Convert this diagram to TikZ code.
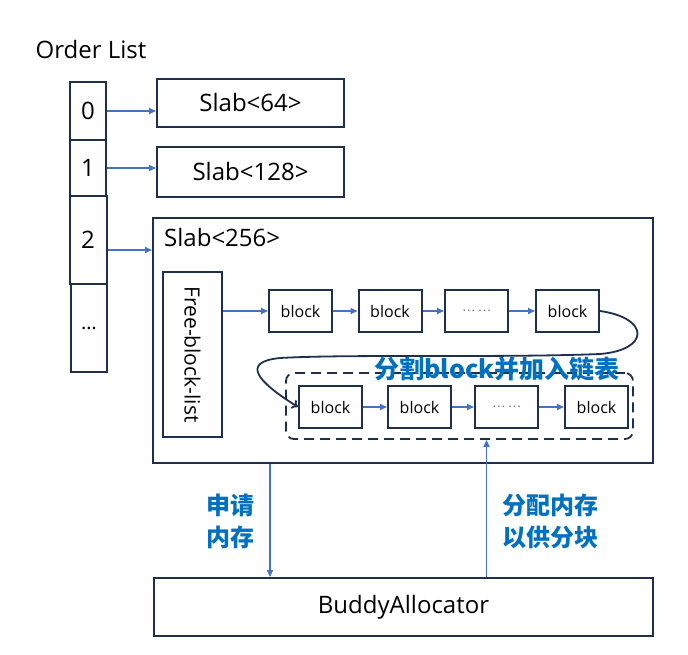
\documentclass[tikz,border=0pt]{standalone}
\usepackage{fontspec}
\setmainfont{Open Sans}
\newfontfamily\cjk{Noto Sans CJK SC}
\usetikzlibrary{arrows.meta,positioning}

\definecolor{navy}{RGB}{31,48,78}
\definecolor{lineblue}{RGB}{68,114,196}
\definecolor{textblue}{RGB}{0,112,192}
\newcommand{\gapdots}{{\cjk\fontsize{12}{12}\selectfont\color{gray!80!navy}…\hspace{3pt}…}}

\tikzset{
	cell/.style={draw=navy, line width=2pt, minimum width=36pt, font=\fontsize{24}{24}\selectfont},
	slabbox/.style={draw=navy, line width=2pt, font=\fontsize{24}{24}\selectfont},
	blockbox/.style={draw=navy, line width=2pt, minimum width=63pt, minimum height=42pt, font=\fontsize{16}{16}\selectfont},
	arr/.style={draw=lineblue, line width=1.6pt, -{Triangle[length=7pt,width=6pt]}},
	note/.style={text=textblue, font=\cjk\fontsize{24}{32}\selectfont\bfseries, align=left},
}

\begin{document}
\begin{tikzpicture}[x=1pt,y=-1pt]
			\useasboundingbox (0,0) rectangle (688,655);
			\node[font=\fontsize{24}{24}\selectfont] (title) at (91,50) {Order List};
			% order list cells
			\node[cell, minimum height=58pt] (o0) at (88,111) {0};
			\node[cell, minimum height=56pt] (o1) at (88,168) {1};
			\node[cell, minimum height=88pt, minimum width=37pt] (o2) at (88,240) {2};
			\node[cell, minimum height=88pt] (o3) at (89,328) {\fontsize{20}{20}\selectfont\dots};
			\node[slabbox, minimum width=187pt, minimum height=48pt] (s64) at (250.5,103) {Slab<64>};
			\node[slabbox, minimum width=187pt, minimum height=50pt] (s128) at (250.5,172) {Slab<128>};
			\node[draw=navy, line width=2pt, minimum width=500pt, minimum height=245pt] (s256) at (403,340.5) {};
			\node[font=\fontsize{24}{24}\selectfont, anchor=west, inner sep=0pt] (s256label) at (164,238) {Slab<256>};
			\draw[arr] (o0.east) -- (o0.east -| s64.west);
			\draw[arr] (o1.east) -- (o1.east -| s128.west);
			\draw[arr] ([yshift=-10pt]o2.east) -- ([yshift=-10pt]o2.east -| s256.west);
			% free list and blocks
			\node[draw=navy, line width=2pt, minimum width=165pt, minimum height=59pt, rotate=-90, font=\fontsize{21}{21}\selectfont] (free) at (192.5,354.5) {Free-block-list};
			\foreach \i/\x/\t in {1/300.5/block, 2/390/block, 3/476.5/\gapdots, 4/567.5/block}
			\node[blockbox] (t\i) at (\x,311) {\t};
			\node[draw=navy, line width=1.8pt, dash pattern=on 10pt off 6pt, rounded corners=8pt, minimum width=347pt, minimum height=66pt] (split) at (459.5,406) {};
			\foreach \i/\x/\t in {1/330.5/block, 2/419.5/block, 3/506.5/\gapdots, 4/596.5/block}
			\node[blockbox] (b\i) at (\x,407) {\t};
			\draw[arr] (free.north |- t1.west) -- (t1.west);
			\foreach \a/\b in {1/2, 2/3, 3/4}
			\draw[arr] (t\a) -- (t\b);
			\foreach \a/\b in {1/2, 2/3, 3/4}
			\draw[arr] (b\a) -- (b\b);
			\draw[navy, line width=1.8pt, -{To[length=6pt,width=10pt]}] (t4.east) .. controls (650,318) and (650,350) .. (600,354) .. controls (500,358) and (350,354) .. (280,358) .. controls (240,362) and (258,382) .. (b1.west);
			\node[note, font=\cjk\fontsize{25}{25}\selectfont\bfseries] (splitlabel) at (497,369) {分割block并加入链表};
			% buddy allocator
			\node[slabbox, minimum width=499pt, minimum height=58pt] (buddy) at (403.5,607) {BuddyAllocator};
			\draw[arr] ([xshift=-133pt]s256.south) -- ([xshift=-133pt]s256.south |- buddy.north);
			\draw[arr] ([xshift=83pt]buddy.north) -- ([xshift=83pt]buddy.north |- split.south);
			\node[note] (req) at (230,521) {申请\\内存};
			\node[note] (alloc) at (550,521) {分配内存\\以供分块};
		\end{tikzpicture}
\end{document}
